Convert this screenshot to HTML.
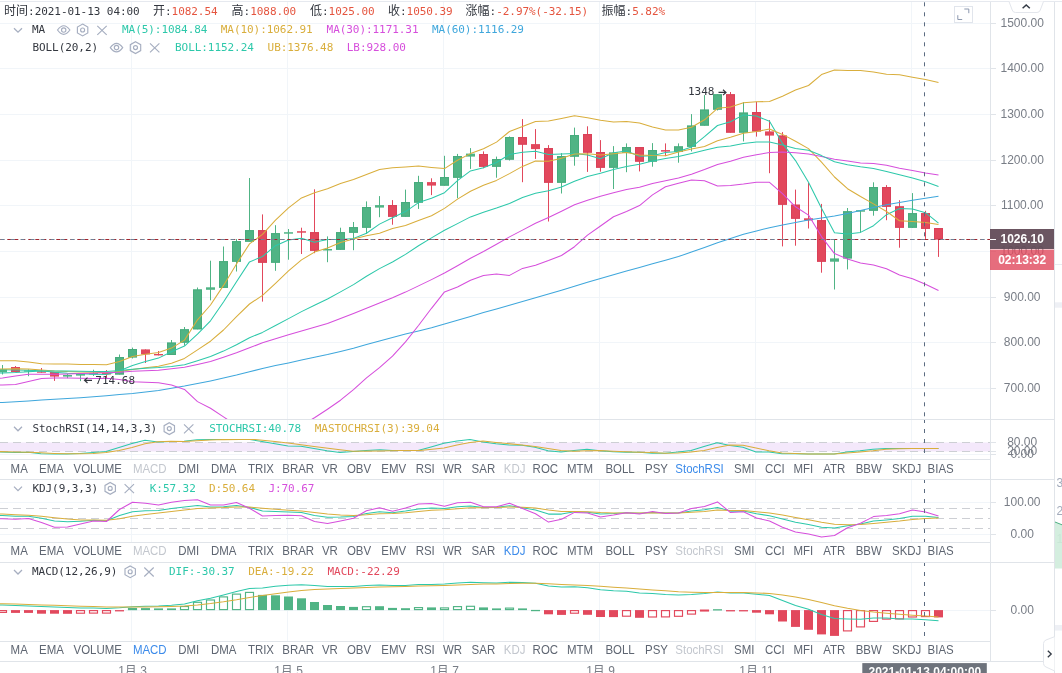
<!DOCTYPE html><html><head><meta charset="utf-8"><title>chart</title><style>html,body{margin:0;padding:0;background:#fff;overflow:hidden}svg{will-change:transform}</style></head><body><svg width="1062" height="673" viewBox="0 0 1062 673" style="display:block">
<rect width="1062" height="673" fill="#fff"/>
<defs>
<clipPath id="cm"><rect x="0" y="2" width="990" height="417"/></clipPath>
<clipPath id="cs"><rect x="0" y="420" width="990" height="39"/></clipPath>
<clipPath id="ck"><rect x="0" y="480" width="990" height="62"/></clipPath>
<clipPath id="cd"><rect x="0" y="563" width="990" height="78"/></clipPath>
<g id="eye" fill="none" stroke="#A6AEC0" stroke-width="1.15"><path d="M-6.2,0 Q0,-8.6 6.2,0 Q0,8.6 -6.2,0 Z"/><circle r="2.2"/></g>
<g id="hex" fill="none" stroke="#A6AEC0" stroke-width="1.15"><path d="M0,-5.9 L5.2,-2.95 L5.2,2.95 L0,5.9 L-5.2,2.95 L-5.2,-2.95 Z"/><circle r="2"/></g>
<g id="xx" fill="none" stroke="#A6AEC0" stroke-width="1.15"><path d="M-4.7,-4.5 L4.7,4.5 M4.7,-4.5 L-4.7,4.5"/></g>
<g id="chev" fill="none" stroke="#A6AEC0" stroke-width="1.25"><path d="M-4,-2 L0,2 L4,-2"/></g>
</defs>
<line x1="0" x2="990.5" y1="388.5" y2="388.5" stroke="#F1F5F9" stroke-width="1" />
<line x1="0" x2="990.5" y1="342.5" y2="342.5" stroke="#F1F5F9" stroke-width="1" />
<line x1="0" x2="990.5" y1="297.5" y2="297.5" stroke="#F1F5F9" stroke-width="1" />
<line x1="0" x2="990.5" y1="251.5" y2="251.5" stroke="#F1F5F9" stroke-width="1" />
<line x1="0" x2="990.5" y1="205.5" y2="205.5" stroke="#F1F5F9" stroke-width="1" />
<line x1="0" x2="990.5" y1="160.5" y2="160.5" stroke="#F1F5F9" stroke-width="1" />
<line x1="0" x2="990.5" y1="114.5" y2="114.5" stroke="#F1F5F9" stroke-width="1" />
<line x1="0" x2="990.5" y1="68.5" y2="68.5" stroke="#F1F5F9" stroke-width="1" />
<line x1="0" x2="990.5" y1="23.5" y2="23.5" stroke="#F1F5F9" stroke-width="1" />
<line x1="131.5" x2="131.5" y1="2" y2="419.5" stroke="#F1F5F9" stroke-width="1" />
<line x1="131.5" x2="131.5" y1="419.5" y2="459.5" stroke="#F1F5F9" stroke-width="1" />
<line x1="131.5" x2="131.5" y1="479.5" y2="542.5" stroke="#F1F5F9" stroke-width="1" />
<line x1="131.5" x2="131.5" y1="562.5" y2="641.5" stroke="#F1F5F9" stroke-width="1" />
<line x1="287.5" x2="287.5" y1="2" y2="419.5" stroke="#F1F5F9" stroke-width="1" />
<line x1="287.5" x2="287.5" y1="419.5" y2="459.5" stroke="#F1F5F9" stroke-width="1" />
<line x1="287.5" x2="287.5" y1="479.5" y2="542.5" stroke="#F1F5F9" stroke-width="1" />
<line x1="287.5" x2="287.5" y1="562.5" y2="641.5" stroke="#F1F5F9" stroke-width="1" />
<line x1="443.5" x2="443.5" y1="2" y2="419.5" stroke="#F1F5F9" stroke-width="1" />
<line x1="443.5" x2="443.5" y1="419.5" y2="459.5" stroke="#F1F5F9" stroke-width="1" />
<line x1="443.5" x2="443.5" y1="479.5" y2="542.5" stroke="#F1F5F9" stroke-width="1" />
<line x1="443.5" x2="443.5" y1="562.5" y2="641.5" stroke="#F1F5F9" stroke-width="1" />
<line x1="599.5" x2="599.5" y1="2" y2="419.5" stroke="#F1F5F9" stroke-width="1" />
<line x1="599.5" x2="599.5" y1="419.5" y2="459.5" stroke="#F1F5F9" stroke-width="1" />
<line x1="599.5" x2="599.5" y1="479.5" y2="542.5" stroke="#F1F5F9" stroke-width="1" />
<line x1="599.5" x2="599.5" y1="562.5" y2="641.5" stroke="#F1F5F9" stroke-width="1" />
<line x1="755.5" x2="755.5" y1="2" y2="419.5" stroke="#F1F5F9" stroke-width="1" />
<line x1="755.5" x2="755.5" y1="419.5" y2="459.5" stroke="#F1F5F9" stroke-width="1" />
<line x1="755.5" x2="755.5" y1="479.5" y2="542.5" stroke="#F1F5F9" stroke-width="1" />
<line x1="755.5" x2="755.5" y1="562.5" y2="641.5" stroke="#F1F5F9" stroke-width="1" />
<line x1="911.5" x2="911.5" y1="2" y2="419.5" stroke="#F1F5F9" stroke-width="1" />
<line x1="911.5" x2="911.5" y1="419.5" y2="459.5" stroke="#F1F5F9" stroke-width="1" />
<line x1="911.5" x2="911.5" y1="479.5" y2="542.5" stroke="#F1F5F9" stroke-width="1" />
<line x1="911.5" x2="911.5" y1="562.5" y2="641.5" stroke="#F1F5F9" stroke-width="1" />
<line x1="0" x2="990.5" y1="454.5" y2="454.5" stroke="#F1F5F9" stroke-width="1" />
<line x1="0" x2="990.5" y1="502.5" y2="502.5" stroke="#F1F5F9" stroke-width="1" />
<line x1="0" x2="990.5" y1="534.5" y2="534.5" stroke="#F1F5F9" stroke-width="1" />
<line x1="0" x2="990.5" y1="610.5" y2="610.5" stroke="#F1F5F9" stroke-width="1" />
<g clip-path="url(#cm)">
<rect x="2.0" y="365.0" width="1" height="9.5" fill="#50B485"/>
<rect x="-2.0" y="369.3" width="9" height="3.0" fill="#50B485"/>
<rect x="15.0" y="366.0" width="1" height="6.0" fill="#E2485C"/>
<rect x="11.0" y="367.0" width="9" height="5.0" fill="#E2485C"/>
<rect x="28.0" y="369.3" width="1" height="6.9" fill="#50B485"/>
<rect x="24.0" y="370.4" width="9" height="1.2" fill="#50B485"/>
<rect x="41.0" y="368.0" width="1" height="4.7" fill="#E2485C"/>
<rect x="37.0" y="371.4" width="9" height="1.3" fill="#E2485C"/>
<rect x="54.0" y="372.0" width="1" height="8.9" fill="#E2485C"/>
<rect x="50.0" y="372.0" width="9" height="4.6" fill="#E2485C"/>
<rect x="67.0" y="374.0" width="1" height="4.2" fill="#50B485"/>
<rect x="63.0" y="375.0" width="9" height="1.6" fill="#50B485"/>
<rect x="80.0" y="374.0" width="1" height="7.1" fill="#50B485"/>
<rect x="76.0" y="374.0" width="9" height="1.6" fill="#50B485"/>
<rect x="93.0" y="369.7" width="1" height="6.2" fill="#50B485"/>
<rect x="89.0" y="373.0" width="9" height="1.5" fill="#50B485"/>
<rect x="106.0" y="370.0" width="1" height="8.0" fill="#E2485C"/>
<rect x="102.0" y="373.0" width="9" height="1.5" fill="#E2485C"/>
<rect x="119.0" y="354.5" width="1" height="20.0" fill="#50B485"/>
<rect x="115.0" y="357.1" width="9" height="17.4" fill="#50B485"/>
<rect x="115.5" y="357.6" width="8" height="16.4" fill="none" stroke="#46AB7C" stroke-width="1"/>
<rect x="132.0" y="347.6" width="1" height="10.9" fill="#50B485"/>
<rect x="128.0" y="349.0" width="9" height="8.4" fill="#50B485"/>
<rect x="128.5" y="349.5" width="8" height="7.4" fill="none" stroke="#46AB7C" stroke-width="1"/>
<rect x="145.0" y="349.4" width="1" height="13.6" fill="#E2485C"/>
<rect x="141.0" y="349.4" width="9" height="5.0" fill="#E2485C"/>
<rect x="158.0" y="351.0" width="1" height="4.4" fill="#E2485C"/>
<rect x="154.0" y="354.0" width="9" height="1.4" fill="#E2485C"/>
<rect x="171.0" y="340.0" width="1" height="15.0" fill="#50B485"/>
<rect x="167.0" y="342.6" width="9" height="12.4" fill="#50B485"/>
<rect x="167.5" y="343.1" width="8" height="11.4" fill="none" stroke="#46AB7C" stroke-width="1"/>
<rect x="184.0" y="327.0" width="1" height="18.6" fill="#50B485"/>
<rect x="180.0" y="329.3" width="9" height="13.3" fill="#50B485"/>
<rect x="180.5" y="329.8" width="8" height="12.3" fill="none" stroke="#46AB7C" stroke-width="1"/>
<rect x="197.0" y="287.5" width="1" height="41.8" fill="#50B485"/>
<rect x="193.0" y="289.5" width="9" height="39.8" fill="#50B485"/>
<rect x="193.5" y="290.0" width="8" height="38.8" fill="none" stroke="#46AB7C" stroke-width="1"/>
<rect x="210.0" y="260.7" width="1" height="39.6" fill="#50B485"/>
<rect x="206.0" y="287.3" width="9" height="2.5" fill="#50B485"/>
<rect x="223.0" y="246.5" width="1" height="41.3" fill="#50B485"/>
<rect x="219.0" y="261.2" width="9" height="26.6" fill="#50B485"/>
<rect x="219.5" y="261.7" width="8" height="25.6" fill="none" stroke="#46AB7C" stroke-width="1"/>
<rect x="236.0" y="239.0" width="1" height="32.5" fill="#50B485"/>
<rect x="232.0" y="241.2" width="9" height="20.5" fill="#50B485"/>
<rect x="232.5" y="241.7" width="8" height="19.5" fill="none" stroke="#46AB7C" stroke-width="1"/>
<rect x="249.0" y="178.0" width="1" height="63.7" fill="#50B485"/>
<rect x="245.0" y="230.2" width="9" height="11.5" fill="#50B485"/>
<rect x="245.5" y="230.7" width="8" height="10.5" fill="none" stroke="#46AB7C" stroke-width="1"/>
<rect x="262.0" y="214.4" width="1" height="87.2" fill="#E2485C"/>
<rect x="258.0" y="230.2" width="9" height="32.5" fill="#E2485C"/>
<rect x="258.5" y="230.7" width="8" height="31.5" fill="none" stroke="#D94058" stroke-width="1"/>
<rect x="275.0" y="225.2" width="1" height="45.6" fill="#50B485"/>
<rect x="271.0" y="233.2" width="9" height="29.5" fill="#50B485"/>
<rect x="271.5" y="233.7" width="8" height="28.5" fill="none" stroke="#46AB7C" stroke-width="1"/>
<rect x="288.0" y="229.0" width="1" height="30.7" fill="#50B485"/>
<rect x="284.0" y="232.2" width="9" height="1.5" fill="#50B485"/>
<rect x="301.0" y="227.7" width="1" height="26.3" fill="#E2485C"/>
<rect x="297.0" y="231.2" width="9" height="1.5" fill="#E2485C"/>
<rect x="314.0" y="189.3" width="1" height="63.9" fill="#E2485C"/>
<rect x="310.0" y="232.2" width="9" height="18.5" fill="#E2485C"/>
<rect x="310.5" y="232.7" width="8" height="17.5" fill="none" stroke="#D94058" stroke-width="1"/>
<rect x="327.0" y="236.4" width="1" height="25.8" fill="#50B485"/>
<rect x="323.0" y="249.0" width="9" height="1.5" fill="#50B485"/>
<rect x="340.0" y="227.7" width="1" height="22.0" fill="#50B485"/>
<rect x="336.0" y="232.2" width="9" height="17.5" fill="#50B485"/>
<rect x="336.5" y="232.7" width="8" height="16.5" fill="none" stroke="#46AB7C" stroke-width="1"/>
<rect x="353.0" y="222.0" width="1" height="28.2" fill="#50B485"/>
<rect x="349.0" y="227.2" width="9" height="5.5" fill="#50B485"/>
<rect x="349.5" y="227.7" width="8" height="4.5" fill="none" stroke="#46AB7C" stroke-width="1"/>
<rect x="366.0" y="201.4" width="1" height="32.6" fill="#50B485"/>
<rect x="362.0" y="207.1" width="9" height="20.6" fill="#50B485"/>
<rect x="362.5" y="207.6" width="8" height="19.6" fill="none" stroke="#46AB7C" stroke-width="1"/>
<rect x="379.0" y="196.1" width="1" height="21.1" fill="#50B485"/>
<rect x="375.0" y="205.1" width="9" height="2.5" fill="#50B485"/>
<rect x="392.0" y="200.1" width="1" height="24.6" fill="#E2485C"/>
<rect x="388.0" y="205.1" width="9" height="11.6" fill="#E2485C"/>
<rect x="388.5" y="205.6" width="8" height="10.6" fill="none" stroke="#D94058" stroke-width="1"/>
<rect x="405.0" y="189.6" width="1" height="27.1" fill="#50B485"/>
<rect x="401.0" y="202.1" width="9" height="14.6" fill="#50B485"/>
<rect x="401.5" y="202.6" width="8" height="13.6" fill="none" stroke="#46AB7C" stroke-width="1"/>
<rect x="418.0" y="175.8" width="1" height="33.1" fill="#50B485"/>
<rect x="414.0" y="182.1" width="9" height="20.5" fill="#50B485"/>
<rect x="414.5" y="182.6" width="8" height="19.5" fill="none" stroke="#46AB7C" stroke-width="1"/>
<rect x="431.0" y="178.3" width="1" height="16.8" fill="#E2485C"/>
<rect x="427.0" y="182.1" width="9" height="3.5" fill="#E2485C"/>
<rect x="444.0" y="155.8" width="1" height="29.8" fill="#50B485"/>
<rect x="440.0" y="177.1" width="9" height="8.5" fill="#50B485"/>
<rect x="440.5" y="177.6" width="8" height="7.5" fill="none" stroke="#46AB7C" stroke-width="1"/>
<rect x="457.0" y="153.9" width="1" height="44.3" fill="#50B485"/>
<rect x="453.0" y="156.1" width="9" height="21.6" fill="#50B485"/>
<rect x="453.5" y="156.6" width="8" height="20.6" fill="none" stroke="#46AB7C" stroke-width="1"/>
<rect x="470.0" y="148.1" width="1" height="20.8" fill="#50B485"/>
<rect x="466.0" y="153.6" width="9" height="3.0" fill="#50B485"/>
<rect x="483.0" y="151.4" width="1" height="16.8" fill="#E2485C"/>
<rect x="479.0" y="154.1" width="9" height="12.6" fill="#E2485C"/>
<rect x="479.5" y="154.6" width="8" height="11.6" fill="none" stroke="#D94058" stroke-width="1"/>
<rect x="496.0" y="156.6" width="1" height="21.1" fill="#50B485"/>
<rect x="492.0" y="159.1" width="9" height="7.6" fill="#50B485"/>
<rect x="492.5" y="159.6" width="8" height="6.6" fill="none" stroke="#46AB7C" stroke-width="1"/>
<rect x="509.0" y="136.4" width="1" height="24.1" fill="#50B485"/>
<rect x="505.0" y="137.1" width="9" height="22.5" fill="#50B485"/>
<rect x="505.5" y="137.6" width="8" height="21.5" fill="none" stroke="#46AB7C" stroke-width="1"/>
<rect x="522.0" y="119.1" width="1" height="63.1" fill="#E2485C"/>
<rect x="518.0" y="137.1" width="9" height="7.5" fill="#E2485C"/>
<rect x="518.5" y="137.6" width="8" height="6.5" fill="none" stroke="#D94058" stroke-width="1"/>
<rect x="535.0" y="129.1" width="1" height="29.8" fill="#E2485C"/>
<rect x="531.0" y="144.1" width="9" height="5.0" fill="#E2485C"/>
<rect x="548.0" y="145.1" width="1" height="76.4" fill="#E2485C"/>
<rect x="544.0" y="148.1" width="9" height="34.6" fill="#E2485C"/>
<rect x="544.5" y="148.6" width="8" height="33.6" fill="none" stroke="#D94058" stroke-width="1"/>
<rect x="561.0" y="153.1" width="1" height="40.4" fill="#50B485"/>
<rect x="557.0" y="156.1" width="9" height="26.6" fill="#50B485"/>
<rect x="557.5" y="156.6" width="8" height="25.6" fill="none" stroke="#46AB7C" stroke-width="1"/>
<rect x="574.0" y="127.6" width="1" height="38.1" fill="#50B485"/>
<rect x="570.0" y="135.1" width="9" height="21.5" fill="#50B485"/>
<rect x="570.5" y="135.6" width="8" height="20.5" fill="none" stroke="#46AB7C" stroke-width="1"/>
<rect x="587.0" y="126.3" width="1" height="45.6" fill="#E2485C"/>
<rect x="583.0" y="134.1" width="9" height="18.5" fill="#E2485C"/>
<rect x="583.5" y="134.6" width="8" height="17.5" fill="none" stroke="#D94058" stroke-width="1"/>
<rect x="600.0" y="140.1" width="1" height="31.6" fill="#E2485C"/>
<rect x="596.0" y="152.1" width="9" height="15.6" fill="#E2485C"/>
<rect x="596.5" y="152.6" width="8" height="14.6" fill="none" stroke="#D94058" stroke-width="1"/>
<rect x="613.0" y="146.1" width="1" height="42.9" fill="#50B485"/>
<rect x="609.0" y="152.6" width="9" height="15.1" fill="#50B485"/>
<rect x="609.5" y="153.1" width="8" height="14.1" fill="none" stroke="#46AB7C" stroke-width="1"/>
<rect x="626.0" y="143.4" width="1" height="28.8" fill="#50B485"/>
<rect x="622.0" y="147.1" width="9" height="5.5" fill="#50B485"/>
<rect x="622.5" y="147.6" width="8" height="4.5" fill="none" stroke="#46AB7C" stroke-width="1"/>
<rect x="639.0" y="147.1" width="1" height="24.3" fill="#E2485C"/>
<rect x="635.0" y="147.1" width="9" height="14.5" fill="#E2485C"/>
<rect x="635.5" y="147.6" width="8" height="13.5" fill="none" stroke="#D94058" stroke-width="1"/>
<rect x="652.0" y="143.1" width="1" height="23.6" fill="#50B485"/>
<rect x="648.0" y="150.1" width="9" height="11.5" fill="#50B485"/>
<rect x="648.5" y="150.6" width="8" height="10.5" fill="none" stroke="#46AB7C" stroke-width="1"/>
<rect x="665.0" y="143.4" width="1" height="12.7" fill="#E2485C"/>
<rect x="661.0" y="150.1" width="9" height="1.5" fill="#E2485C"/>
<rect x="678.0" y="143.4" width="1" height="19.3" fill="#50B485"/>
<rect x="674.0" y="146.4" width="9" height="5.5" fill="#50B485"/>
<rect x="674.5" y="146.9" width="8" height="4.5" fill="none" stroke="#46AB7C" stroke-width="1"/>
<rect x="691.0" y="114.1" width="1" height="37.3" fill="#50B485"/>
<rect x="687.0" y="125.6" width="9" height="21.1" fill="#50B485"/>
<rect x="687.5" y="126.1" width="8" height="20.1" fill="none" stroke="#46AB7C" stroke-width="1"/>
<rect x="704.0" y="95.1" width="1" height="30.5" fill="#50B485"/>
<rect x="700.0" y="109.6" width="9" height="16.0" fill="#50B485"/>
<rect x="700.5" y="110.1" width="8" height="15.0" fill="none" stroke="#46AB7C" stroke-width="1"/>
<rect x="717.0" y="94.3" width="1" height="16.2" fill="#50B485"/>
<rect x="713.0" y="94.3" width="9" height="15.3" fill="#50B485"/>
<rect x="713.5" y="94.8" width="8" height="14.3" fill="none" stroke="#46AB7C" stroke-width="1"/>
<rect x="730.0" y="92.0" width="1" height="40.6" fill="#E2485C"/>
<rect x="726.0" y="94.3" width="9" height="38.3" fill="#E2485C"/>
<rect x="726.5" y="94.8" width="8" height="37.3" fill="none" stroke="#D94058" stroke-width="1"/>
<rect x="743.0" y="102.1" width="1" height="39.3" fill="#50B485"/>
<rect x="739.0" y="112.6" width="9" height="20.0" fill="#50B485"/>
<rect x="739.5" y="113.1" width="8" height="19.0" fill="none" stroke="#46AB7C" stroke-width="1"/>
<rect x="756.0" y="101.8" width="1" height="34.8" fill="#E2485C"/>
<rect x="752.0" y="112.1" width="9" height="19.3" fill="#E2485C"/>
<rect x="752.5" y="112.6" width="8" height="18.3" fill="none" stroke="#D94058" stroke-width="1"/>
<rect x="769.0" y="120.1" width="1" height="53.1" fill="#E2485C"/>
<rect x="765.0" y="131.4" width="9" height="4.2" fill="#E2485C"/>
<rect x="782.0" y="132.1" width="1" height="114.3" fill="#E2485C"/>
<rect x="778.0" y="135.6" width="9" height="69.1" fill="#E2485C"/>
<rect x="778.5" y="136.1" width="8" height="68.1" fill="none" stroke="#D94058" stroke-width="1"/>
<rect x="795.0" y="189.6" width="1" height="56.1" fill="#E2485C"/>
<rect x="791.0" y="204.7" width="9" height="14.0" fill="#E2485C"/>
<rect x="791.5" y="205.2" width="8" height="13.0" fill="none" stroke="#D94058" stroke-width="1"/>
<rect x="808.0" y="183.0" width="1" height="45.5" fill="#E2485C"/>
<rect x="804.0" y="218.3" width="9" height="2.1" fill="#E2485C"/>
<rect x="821.0" y="203.9" width="1" height="68.8" fill="#E2485C"/>
<rect x="817.0" y="220.2" width="9" height="41.5" fill="#E2485C"/>
<rect x="817.5" y="220.7" width="8" height="40.5" fill="none" stroke="#D94058" stroke-width="1"/>
<rect x="834.0" y="239.6" width="1" height="49.9" fill="#50B485"/>
<rect x="830.0" y="258.4" width="9" height="3.3" fill="#50B485"/>
<rect x="847.0" y="208.0" width="1" height="61.4" fill="#50B485"/>
<rect x="843.0" y="211.3" width="9" height="47.1" fill="#50B485"/>
<rect x="843.5" y="211.8" width="8" height="46.1" fill="none" stroke="#46AB7C" stroke-width="1"/>
<rect x="860.0" y="210.2" width="1" height="22.5" fill="#50B485"/>
<rect x="856.0" y="210.2" width="9" height="1.5" fill="#50B485"/>
<rect x="873.0" y="182.3" width="1" height="33.4" fill="#50B485"/>
<rect x="869.0" y="187.1" width="9" height="23.6" fill="#50B485"/>
<rect x="869.5" y="187.6" width="8" height="22.6" fill="none" stroke="#46AB7C" stroke-width="1"/>
<rect x="886.0" y="185.1" width="1" height="35.1" fill="#E2485C"/>
<rect x="882.0" y="187.1" width="9" height="19.6" fill="#E2485C"/>
<rect x="882.5" y="187.6" width="8" height="18.6" fill="none" stroke="#D94058" stroke-width="1"/>
<rect x="899.0" y="200.2" width="1" height="47.5" fill="#E2485C"/>
<rect x="895.0" y="206.4" width="9" height="21.3" fill="#E2485C"/>
<rect x="895.5" y="206.9" width="8" height="20.3" fill="none" stroke="#D94058" stroke-width="1"/>
<rect x="912.0" y="193.1" width="1" height="34.9" fill="#50B485"/>
<rect x="908.0" y="213.2" width="9" height="14.5" fill="#50B485"/>
<rect x="908.5" y="213.7" width="8" height="13.5" fill="none" stroke="#46AB7C" stroke-width="1"/>
<rect x="925.0" y="210.8" width="1" height="28.1" fill="#E2485C"/>
<rect x="921.0" y="213.2" width="9" height="15.6" fill="#E2485C"/>
<rect x="921.5" y="213.7" width="8" height="14.6" fill="none" stroke="#D94058" stroke-width="1"/>
<rect x="938.0" y="228.1" width="1" height="28.8" fill="#E2485C"/>
<rect x="934.0" y="228.1" width="9" height="11.3" fill="#E2485C"/>
<rect x="934.5" y="228.6" width="8" height="10.3" fill="none" stroke="#D94058" stroke-width="1"/>
<polyline points="-10.5,369.7 2.5,369.8 15.5,370.1 28.5,370.2 41.5,370.8 54.5,372.2 67.5,373.3 80.5,373.7 93.5,374.3 106.5,374.6 119.5,370.7 132.5,365.5 145.5,361.6 158.5,358.1 171.5,351.7 184.5,346.1 197.5,334.2 210.5,320.8 223.5,302.0 236.5,281.7 249.5,261.9 262.5,256.5 275.5,245.7 288.5,239.9 301.5,238.2 314.5,242.3 327.5,239.6 340.5,239.4 353.5,238.4 366.5,233.2 379.5,224.1 392.5,217.7 405.5,211.6 418.5,202.6 431.5,198.3 444.5,192.7 457.5,180.6 470.5,170.9 483.5,167.8 496.5,162.5 509.5,154.5 522.5,152.2 535.5,151.3 548.5,154.5 561.5,153.9 574.5,153.5 587.5,155.1 600.5,158.8 613.5,152.8 626.5,151.0 639.5,156.3 652.5,155.8 665.5,152.6 678.5,151.4 691.5,147.1 704.5,136.7 717.5,125.5 730.5,121.7 743.5,114.9 756.5,116.1 769.5,121.3 782.5,143.4 795.5,160.6 808.5,182.2 821.5,208.2 834.5,232.8 847.5,234.1 860.5,232.4 873.5,225.7 886.5,214.7 899.5,208.6 912.5,209.0 925.5,212.7 938.5,223.2" fill="none" stroke="#2DC8AA" stroke-width="1.05" stroke-linejoin="round" />
<polyline points="-10.5,369.0 2.5,368.9 15.5,368.8 28.5,369.0 41.5,370.0 54.5,371.0 67.5,371.6 80.5,371.9 93.5,372.2 106.5,372.7 119.5,371.5 132.5,369.4 145.5,367.7 158.5,366.2 171.5,363.2 184.5,358.4 197.5,349.9 210.5,341.2 223.5,330.0 236.5,316.7 249.5,304.0 262.5,295.4 275.5,283.3 288.5,270.9 301.5,259.9 314.5,252.1 327.5,248.0 340.5,242.5 353.5,239.1 366.5,235.7 379.5,233.2 392.5,228.6 405.5,225.5 418.5,220.5 431.5,215.8 444.5,208.4 457.5,199.1 470.5,191.3 483.5,185.2 496.5,180.4 509.5,173.6 522.5,166.4 535.5,161.1 548.5,161.2 561.5,158.2 574.5,154.0 587.5,153.7 600.5,155.1 613.5,153.7 626.5,152.5 639.5,154.9 652.5,155.5 665.5,155.7 678.5,152.1 691.5,149.0 704.5,146.5 717.5,140.7 730.5,137.2 743.5,133.2 756.5,131.6 769.5,129.0 782.5,134.4 795.5,141.2 808.5,148.6 821.5,162.2 834.5,177.0 847.5,188.7 860.5,196.5 873.5,203.9 886.5,211.5 899.5,220.7 912.5,221.5 925.5,222.6 938.5,224.4" fill="none" stroke="#D9AE3C" stroke-width="1.05" stroke-linejoin="round" />
<polyline points="-10.5,379.0 2.5,378.0 15.5,375.9 28.5,374.3 41.5,374.3 54.5,374.2 67.5,373.9 80.5,373.6 93.5,373.2 106.5,372.8 119.5,372.2 132.5,371.2 145.5,370.8 158.5,370.3 171.5,368.8 184.5,367.3 197.5,364.4 210.5,361.5 223.5,357.2 236.5,352.8 249.5,347.8 262.5,342.8 275.5,338.8 288.5,334.8 301.5,331.0 314.5,327.3 327.5,323.5 340.5,318.5 353.5,313.4 366.5,308.2 379.5,302.9 392.5,297.8 405.5,292.1 418.5,285.9 431.5,279.6 444.5,273.0 457.5,265.7 470.5,258.3 483.5,251.5 496.5,244.3 509.5,236.9 522.5,230.1 535.5,223.3 548.5,217.5 561.5,211.3 574.5,204.8 587.5,200.3 600.5,196.3 613.5,192.7 626.5,189.5 639.5,187.2 652.5,183.5 665.5,180.8 678.5,177.9 691.5,174.3 704.5,169.6 717.5,164.5 730.5,161.2 743.5,157.3 756.5,154.8 769.5,152.5 782.5,152.1 795.5,152.7 808.5,153.9 821.5,156.5 834.5,159.2 847.5,161.0 860.5,162.9 873.5,163.6 886.5,165.2 899.5,168.2 912.5,170.5 925.5,173.1 938.5,175.0" fill="none" stroke="#D64FDC" stroke-width="1.05" stroke-linejoin="round" />
<polyline points="-10.5,402.8 2.5,402.4 15.5,401.7 28.5,400.9 41.5,400.1 54.5,399.3 67.5,398.5 80.5,397.7 93.5,396.8 106.5,395.8 119.5,394.6 132.5,393.4 145.5,391.9 158.5,390.5 171.5,388.3 184.5,386.1 197.5,383.5 210.5,380.9 223.5,378.0 236.5,375.1 249.5,371.8 262.5,368.4 275.5,365.6 288.5,362.9 301.5,360.1 314.5,357.3 327.5,354.6 340.5,351.4 353.5,348.2 366.5,344.6 379.5,341.0 392.5,337.4 405.5,334.1 418.5,330.9 431.5,327.7 444.5,323.9 457.5,320.2 470.5,316.4 483.5,312.6 496.5,308.9 509.5,305.2 522.5,301.6 535.5,297.8 548.5,294.0 561.5,290.2 574.5,286.3 587.5,282.3 600.5,278.4 613.5,274.7 626.5,271.1 639.5,267.5 652.5,263.8 665.5,260.2 678.5,256.6 691.5,252.0 704.5,247.4 717.5,242.8 730.5,238.5 743.5,234.2 756.5,230.9 769.5,227.7 782.5,225.0 795.5,222.4 808.5,219.9 821.5,218.1 834.5,216.1 847.5,213.4 860.5,210.6 873.5,207.5 886.5,204.7 899.5,202.6 912.5,200.3 925.5,198.2 938.5,196.3" fill="none" stroke="#3FA7DC" stroke-width="1.05" stroke-linejoin="round" />
<polyline points="-10.5,373.0 2.5,372.9 15.5,372.6 28.5,371.8 41.5,371.1 54.5,371.0 67.5,371.0 80.5,371.3 93.5,371.5 106.5,371.4 119.5,370.5 132.5,369.2 145.5,368.2 158.5,367.6 171.5,366.6 184.5,364.7 197.5,360.7 210.5,356.6 223.5,351.1 236.5,344.7 249.5,337.7 262.5,332.4 275.5,325.5 288.5,318.6 301.5,311.6 314.5,305.3 327.5,299.0 340.5,291.9 353.5,284.6 366.5,276.2 379.5,268.6 392.5,262.0 405.5,254.4 418.5,245.7 431.5,237.9 444.5,230.3 457.5,223.6 470.5,216.9 483.5,212.2 496.5,208.1 509.5,203.4 522.5,197.5 535.5,193.3 548.5,190.8 561.5,187.0 574.5,181.2 587.5,176.4 600.5,173.2 613.5,169.4 626.5,166.4 639.5,164.3 652.5,160.9 665.5,158.4 678.5,156.6 691.5,153.6 704.5,150.3 717.5,147.2 730.5,146.1 743.5,143.4 756.5,142.0 769.5,141.9 782.5,145.0 795.5,148.4 808.5,150.3 821.5,155.6 834.5,161.8 847.5,164.7 860.5,166.8 873.5,168.6 886.5,171.5 899.5,174.8 912.5,178.0 925.5,181.8 938.5,186.5" fill="none" stroke="#2DC8AA" stroke-width="1.05" stroke-linejoin="round" />
<polyline points="-10.5,360.8 2.5,360.8 15.5,360.7 28.5,361.9 41.5,363.8 54.5,363.9 67.5,364.0 80.5,364.4 93.5,364.6 106.5,364.7 119.5,361.6 132.5,356.5 145.5,354.2 158.5,352.5 171.5,348.1 184.5,340.1 197.5,319.8 210.5,305.0 223.5,285.4 236.5,264.0 249.5,243.9 262.5,234.3 275.5,220.2 288.5,207.9 301.5,197.9 314.5,192.7 327.5,188.7 340.5,183.6 353.5,179.5 366.5,174.5 379.5,169.6 392.5,167.8 405.5,166.9 418.5,166.0 431.5,167.4 444.5,168.6 457.5,160.2 470.5,153.6 483.5,148.7 496.5,142.1 509.5,131.5 522.5,126.6 535.5,121.4 548.5,121.1 561.5,118.5 574.5,115.7 587.5,117.7 600.5,120.3 613.5,122.1 626.5,121.5 639.5,123.0 652.5,127.0 665.5,130.0 678.5,130.0 691.5,127.2 704.5,119.8 717.5,108.3 730.5,106.9 743.5,102.8 756.5,101.7 769.5,101.6 782.5,96.2 795.5,90.0 808.5,85.5 821.5,74.6 834.5,69.9 847.5,70.5 860.5,70.5 873.5,72.1 886.5,74.2 899.5,74.7 912.5,77.2 925.5,79.5 938.5,82.5" fill="none" stroke="#D9AE3C" stroke-width="1.05" stroke-linejoin="round" />
<polyline points="-10.5,385.2 2.5,385.0 15.5,384.6 28.5,381.6 41.5,378.4 54.5,378.1 67.5,377.9 80.5,378.2 93.5,378.4 106.5,378.2 119.5,379.4 132.5,381.8 145.5,382.3 158.5,382.7 171.5,385.1 184.5,389.4 197.5,401.6 210.5,408.2 223.5,416.9 236.5,425.4 249.5,431.6 262.5,430.5 275.5,430.8 288.5,429.2 301.5,425.2 314.5,417.8 327.5,409.2 340.5,400.2 353.5,389.6 366.5,377.9 379.5,367.7 392.5,356.2 405.5,341.9 418.5,325.5 431.5,308.3 444.5,291.9 457.5,287.0 470.5,280.2 483.5,275.6 496.5,274.1 509.5,275.4 522.5,268.4 535.5,265.2 548.5,260.6 561.5,255.5 574.5,246.7 587.5,235.1 600.5,226.0 613.5,216.8 626.5,211.4 639.5,205.6 652.5,194.9 665.5,186.8 678.5,183.3 691.5,180.0 704.5,180.7 717.5,186.0 730.5,185.4 743.5,184.0 756.5,182.3 769.5,182.3 782.5,193.7 795.5,206.8 808.5,215.1 821.5,236.6 834.5,253.6 847.5,258.9 860.5,263.1 873.5,265.0 886.5,268.8 899.5,275.0 912.5,278.8 925.5,284.2 938.5,290.5" fill="none" stroke="#D64FDC" stroke-width="1.05" stroke-linejoin="round" />
</g>
<text x="688" y="94.6" fill="#33373F" font-size="11" font-family='"DejaVu Sans Mono","Noto Sans CJK SC",monospace' text-anchor="start" >1348</text>
<path d="M718.5,92.4 H726 M723,89.7 L726,92.4 L723,95.1" fill="none" stroke="#33373F" stroke-width="1.2"/>
<path d="M92,380.3 H84.5 M87.5,377.6 L84.5,380.3 L87.5,383" fill="none" stroke="#33373F" stroke-width="1.2"/>
<text x="95.3" y="384.2" fill="#33373F" font-size="11" font-family='"DejaVu Sans Mono","Noto Sans CJK SC",monospace' text-anchor="start" >714.68</text>
<rect x="0" y="442.5" width="990" height="9" fill="#F4E8FB"/>
<line x1="0" x2="990.5" y1="442.5" y2="442.5" stroke="#CDCFD4" stroke-width="1" stroke-dasharray="8 5"/>
<line x1="0" x2="990.5" y1="451.5" y2="451.5" stroke="#CDCFD4" stroke-width="1" stroke-dasharray="8 5"/>
<g clip-path="url(#cs)">
<polyline points="0.0,452.0 15.0,452.5 28.0,452.3 41.0,453.7 54.0,453.9 67.0,453.9 80.0,453.6 93.0,452.6 106.0,451.6 119.0,447.5 132.0,443.4 145.0,440.2 158.0,441.9 171.0,441.6 184.0,441.2 197.0,439.7 210.0,439.5 250.0,439.5 262.0,441.5 275.0,443.8 288.0,446.0 301.0,446.2 314.0,448.5 327.0,450.8 340.0,452.5 353.0,451.5 366.0,450.6 380.0,449.7 392.0,450.4 418.0,450.4 431.0,447.0 444.0,443.3 457.0,441.0 470.0,439.5 483.0,441.9 496.0,443.8 509.0,445.0 522.0,445.2 535.0,447.3 548.0,450.8 561.0,452.0 574.0,450.4 587.0,449.2 600.0,450.8 613.0,451.8 626.0,452.2 639.0,452.2 652.0,453.2 665.0,453.2 678.0,452.0 691.0,450.4 704.0,446.6 717.0,442.8 730.0,445.4 743.0,447.3 756.0,452.0 769.0,452.0 782.0,453.7 795.0,453.7 808.0,454.0 834.0,454.0 847.0,452.0 860.0,450.8 873.0,449.2 886.0,448.5 899.0,448.5 938.5,448.5" fill="none" stroke="#2DC8AA" stroke-width="1.05" stroke-linejoin="round" />
<polyline points="0.0,451.6 15.0,452.0 28.0,452.2 41.0,452.8 54.0,453.4 67.0,453.8 80.0,453.8 93.0,453.4 106.0,452.6 119.0,450.6 132.0,447.5 145.0,443.7 158.0,441.8 171.0,441.2 184.0,441.5 197.0,440.8 210.0,440.1 223.0,439.6 240.0,439.5 255.0,439.5 275.0,441.6 290.0,443.3 314.0,446.6 340.0,449.7 353.0,451.3 380.0,451.0 400.0,450.4 420.0,450.4 444.0,448.0 457.0,445.0 470.0,442.4 483.0,441.0 496.0,442.4 522.0,445.0 535.0,446.4 548.0,448.5 561.0,450.4 574.0,451.3 587.0,450.8 600.0,450.6 613.0,451.3 639.0,452.2 652.0,452.5 665.0,453.2 678.0,453.0 691.0,452.0 704.0,450.4 717.0,447.5 730.0,445.0 743.0,445.2 756.0,448.0 769.0,450.8 782.0,453.0 795.0,453.5 808.0,454.0 834.0,454.0 847.0,453.0 860.0,452.0 873.0,450.8 886.0,449.2 899.0,448.7 912.0,448.5 938.5,448.5" fill="none" stroke="#D9AE3C" stroke-width="1.05" stroke-linejoin="round" />
</g>
<line x1="0" x2="990.5" y1="508.5" y2="508.5" stroke="#CDCFD4" stroke-width="1" stroke-dasharray="8 5"/>
<line x1="0" x2="990.5" y1="518.5" y2="518.5" stroke="#CDCFD4" stroke-width="1" stroke-dasharray="8 5"/>
<line x1="0" x2="990.5" y1="528.5" y2="528.5" stroke="#CDCFD4" stroke-width="1" stroke-dasharray="8 5"/>
<g clip-path="url(#ck)">
<polyline points="-10.5,515.2 2.5,515.6 15.5,516.2 28.5,516.3 41.5,518.3 54.5,521.0 67.5,521.8 80.5,521.3 93.5,520.3 106.5,520.7 119.5,515.6 132.5,511.7 145.5,510.7 158.5,510.5 171.5,508.4 184.5,506.9 197.5,505.6 210.5,507.0 223.5,506.7 236.5,505.4 249.5,507.4 262.5,510.9 275.5,511.4 288.5,511.9 301.5,512.6 314.5,515.5 327.5,517.3 340.5,517.0 353.5,516.4 366.5,513.4 379.5,511.8 392.5,512.7 405.5,511.1 418.5,509.0 431.5,508.0 444.5,508.6 457.5,506.8 470.5,506.0 483.5,507.4 496.5,507.3 509.5,505.7 522.5,507.7 535.5,510.0 548.5,514.1 561.5,514.1 574.5,511.8 587.5,512.2 600.5,514.0 613.5,513.6 626.5,512.8 639.5,513.3 652.5,512.4 665.5,513.1 678.5,512.9 691.5,511.1 704.5,509.8 717.5,507.4 730.5,511.1 743.5,511.0 756.5,513.8 769.5,515.7 782.5,519.1 795.5,522.3 808.5,524.6 821.5,527.2 834.5,528.0 847.5,525.7 860.5,524.1 873.5,521.1 886.5,519.9 899.5,518.6 912.5,516.3 925.5,516.3 938.5,517.4" fill="none" stroke="#2DC8AA" stroke-width="1.05" stroke-linejoin="round" />
<polyline points="-10.5,513.6 2.5,514.0 15.5,514.7 28.5,515.2 41.5,516.3 54.5,517.8 67.5,519.1 80.5,519.9 93.5,520.0 106.5,520.2 119.5,518.7 132.5,516.3 145.5,514.5 158.5,513.1 171.5,511.6 184.5,510.0 197.5,508.5 210.5,508.0 223.5,507.6 236.5,506.9 249.5,507.1 262.5,508.3 275.5,509.3 288.5,510.2 301.5,511.0 314.5,512.5 327.5,514.1 340.5,515.0 353.5,515.5 366.5,514.8 379.5,513.8 392.5,513.4 405.5,512.7 418.5,511.5 431.5,510.3 444.5,509.7 457.5,508.7 470.5,507.8 483.5,507.7 496.5,507.5 509.5,506.9 522.5,507.2 535.5,508.1 548.5,510.1 561.5,511.4 574.5,511.6 587.5,511.8 600.5,512.5 613.5,512.9 626.5,512.9 639.5,513.0 652.5,512.8 665.5,512.9 678.5,512.9 691.5,512.3 704.5,511.5 717.5,510.1 730.5,510.4 743.5,510.6 756.5,511.7 769.5,513.0 782.5,515.0 795.5,517.5 808.5,519.8 821.5,522.3 834.5,524.2 847.5,524.7 860.5,524.5 873.5,523.4 886.5,522.2 899.5,521.0 912.5,519.4 925.5,518.4 938.5,518.1" fill="none" stroke="#D9AE3C" stroke-width="1.05" stroke-linejoin="round" />
<polyline points="-10.5,518.5 2.5,518.8 15.5,519.3 28.5,518.4 41.5,522.4 54.5,527.3 67.5,527.0 80.5,524.1 93.5,520.9 106.5,521.5 119.5,509.5 132.5,502.3 145.5,503.3 158.5,505.1 171.5,502.2 184.5,500.6 197.5,499.8 210.5,504.9 223.5,504.9 236.5,502.6 249.5,508.2 262.5,516.0 275.5,515.5 288.5,515.2 301.5,515.8 314.5,521.5 327.5,523.6 340.5,520.9 353.5,518.2 366.5,510.7 379.5,507.8 392.5,511.2 405.5,508.1 418.5,504.1 431.5,503.4 444.5,506.2 457.5,502.8 470.5,502.3 483.5,506.8 496.5,506.7 509.5,503.3 522.5,508.6 535.5,513.7 548.5,522.1 561.5,519.3 574.5,512.4 587.5,513.0 600.5,517.0 613.5,515.1 626.5,512.7 639.5,513.9 652.5,511.5 665.5,513.4 678.5,513.0 691.5,508.6 704.5,506.6 717.5,501.9 730.5,512.5 743.5,511.7 756.5,518.0 769.5,521.1 782.5,527.2 795.5,532.0 808.5,534.0 821.5,537.1 834.5,535.5 847.5,527.7 860.5,523.3 873.5,516.6 886.5,515.4 899.5,513.8 912.5,510.0 925.5,512.1 938.5,516.0" fill="none" stroke="#D64FDC" stroke-width="1.05" stroke-linejoin="round" />
</g>
<g clip-path="url(#cd)">
<rect x="-1.5" y="610.6" width="8" height="1.8" fill="none" stroke="#E2485C" stroke-width="1.15"/>
<rect x="11.0" y="610.1" width="9" height="2.8" fill="#E2485C"/>
<rect x="24.0" y="610.1" width="9" height="2.8" fill="#E2485C"/>
<rect x="37.0" y="610.1" width="9" height="3.6" fill="#E2485C"/>
<rect x="50.0" y="610.1" width="9" height="3.6" fill="#E2485C"/>
<rect x="63.0" y="610.1" width="9" height="3.7" fill="#E2485C"/>
<rect x="76.5" y="610.6" width="8" height="2.6" fill="none" stroke="#E2485C" stroke-width="1.15"/>
<rect x="89.5" y="610.6" width="8" height="2.5" fill="none" stroke="#E2485C" stroke-width="1.15"/>
<rect x="102.5" y="610.6" width="8" height="2.5" fill="none" stroke="#E2485C" stroke-width="1.15"/>
<rect x="115.0" y="610.1" width="9" height="1.3" fill="#E2485C"/>
<rect x="128.5" y="608.6" width="8" height="1.0" fill="none" stroke="#50B485" stroke-width="1.15"/>
<rect x="141.0" y="608.1" width="9" height="2.0" fill="#50B485"/>
<rect x="154.0" y="608.4" width="9" height="1.7" fill="#50B485"/>
<rect x="167.0" y="608.4" width="9" height="1.7" fill="#50B485"/>
<rect x="180.5" y="606.5" width="8" height="3.1" fill="none" stroke="#50B485" stroke-width="1.15"/>
<rect x="193.5" y="602.3" width="8" height="7.3" fill="none" stroke="#50B485" stroke-width="1.15"/>
<rect x="206.5" y="600.0" width="8" height="9.6" fill="none" stroke="#50B485" stroke-width="1.15"/>
<rect x="219.5" y="596.9" width="8" height="12.7" fill="none" stroke="#50B485" stroke-width="1.15"/>
<rect x="232.5" y="594.1" width="8" height="15.5" fill="none" stroke="#50B485" stroke-width="1.15"/>
<rect x="245.5" y="592.4" width="8" height="17.2" fill="none" stroke="#50B485" stroke-width="1.15"/>
<rect x="258.0" y="594.9" width="9" height="15.2" fill="#50B485"/>
<rect x="271.0" y="595.3" width="9" height="14.8" fill="#50B485"/>
<rect x="284.0" y="596.5" width="9" height="13.6" fill="#50B485"/>
<rect x="297.0" y="598.3" width="9" height="11.8" fill="#50B485"/>
<rect x="310.0" y="602.0" width="9" height="8.1" fill="#50B485"/>
<rect x="323.0" y="605.0" width="9" height="5.1" fill="#50B485"/>
<rect x="336.0" y="606.0" width="9" height="4.1" fill="#50B485"/>
<rect x="349.0" y="606.9" width="9" height="3.2" fill="#50B485"/>
<rect x="362.5" y="606.7" width="8" height="2.9" fill="none" stroke="#50B485" stroke-width="1.15"/>
<rect x="375.0" y="606.2" width="9" height="3.9" fill="#50B485"/>
<rect x="388.0" y="607.9" width="9" height="2.2" fill="#50B485"/>
<rect x="401.0" y="608.2" width="9" height="1.9" fill="#50B485"/>
<rect x="414.5" y="607.6" width="8" height="2.0" fill="none" stroke="#50B485" stroke-width="1.15"/>
<rect x="427.0" y="607.4" width="9" height="2.7" fill="#50B485"/>
<rect x="440.5" y="607.9" width="8" height="1.7" fill="none" stroke="#50B485" stroke-width="1.15"/>
<rect x="453.5" y="606.6" width="8" height="3.0" fill="none" stroke="#50B485" stroke-width="1.15"/>
<rect x="466.5" y="606.3" width="8" height="3.3" fill="none" stroke="#50B485" stroke-width="1.15"/>
<rect x="479.0" y="607.4" width="9" height="2.7" fill="#50B485"/>
<rect x="492.0" y="608.4" width="9" height="1.7" fill="#50B485"/>
<rect x="505.5" y="608.1" width="8" height="1.5" fill="none" stroke="#50B485" stroke-width="1.15"/>
<rect x="518.0" y="608.4" width="9" height="1.7" fill="#50B485"/>
<rect x="531.0" y="609.9" width="9" height="1.3" fill="#50B485"/>
<rect x="544.0" y="610.1" width="9" height="4.2" fill="#E2485C"/>
<rect x="557.0" y="610.1" width="9" height="4.8" fill="#E2485C"/>
<rect x="570.5" y="610.6" width="8" height="2.6" fill="none" stroke="#E2485C" stroke-width="1.15"/>
<rect x="583.0" y="610.1" width="9" height="4.7" fill="#E2485C"/>
<rect x="596.0" y="610.1" width="9" height="6.9" fill="#E2485C"/>
<rect x="609.0" y="610.1" width="9" height="7.0" fill="#E2485C"/>
<rect x="622.5" y="610.6" width="8" height="5.6" fill="none" stroke="#E2485C" stroke-width="1.15"/>
<rect x="635.0" y="610.1" width="9" height="7.7" fill="#E2485C"/>
<rect x="648.5" y="610.6" width="8" height="6.4" fill="none" stroke="#E2485C" stroke-width="1.15"/>
<rect x="661.5" y="610.6" width="8" height="6.3" fill="none" stroke="#E2485C" stroke-width="1.15"/>
<rect x="674.5" y="610.6" width="8" height="5.7" fill="none" stroke="#E2485C" stroke-width="1.15"/>
<rect x="687.5" y="610.6" width="8" height="3.5" fill="none" stroke="#E2485C" stroke-width="1.15"/>
<rect x="700.5" y="610.1" width="8" height="0.9" fill="none" stroke="#E2485C" stroke-width="1.15"/>
<rect x="713.0" y="609.2" width="9" height="1.3" fill="#50B485"/>
<rect x="726.0" y="610.1" width="9" height="1.3" fill="#E2485C"/>
<rect x="739.0" y="610.1" width="9" height="1.3" fill="#E2485C"/>
<rect x="752.0" y="610.1" width="9" height="2.6" fill="#E2485C"/>
<rect x="765.0" y="610.1" width="9" height="4.2" fill="#E2485C"/>
<rect x="778.0" y="610.1" width="9" height="11.4" fill="#E2485C"/>
<rect x="791.0" y="610.1" width="9" height="16.8" fill="#E2485C"/>
<rect x="804.0" y="610.1" width="9" height="19.7" fill="#E2485C"/>
<rect x="817.0" y="610.1" width="9" height="24.3" fill="#E2485C"/>
<rect x="830.0" y="610.1" width="9" height="25.8" fill="#E2485C"/>
<rect x="843.5" y="610.6" width="8" height="20.3" fill="none" stroke="#E2485C" stroke-width="1.15"/>
<rect x="856.5" y="610.6" width="8" height="16.3" fill="none" stroke="#E2485C" stroke-width="1.15"/>
<rect x="869.5" y="610.6" width="8" height="10.8" fill="none" stroke="#E2485C" stroke-width="1.15"/>
<rect x="882.5" y="610.6" width="8" height="8.5" fill="none" stroke="#E2485C" stroke-width="1.15"/>
<rect x="895.5" y="610.6" width="8" height="8.3" fill="none" stroke="#E2485C" stroke-width="1.15"/>
<rect x="908.5" y="610.6" width="8" height="6.4" fill="none" stroke="#E2485C" stroke-width="1.15"/>
<rect x="921.5" y="610.6" width="8" height="6.0" fill="none" stroke="#E2485C" stroke-width="1.15"/>
<rect x="934.0" y="610.1" width="9" height="7.3" fill="#E2485C"/>
<polyline points="-10.5,604.8 2.5,605.1 15.5,605.6 28.5,606.0 41.5,606.5 54.5,607.1 67.5,607.6 80.5,607.9 93.5,608.1 106.5,608.4 119.5,607.7 132.5,606.7 145.5,606.3 158.5,606.0 171.5,605.2 184.5,603.9 197.5,600.7 210.5,598.2 223.5,595.0 236.5,591.5 249.5,588.4 262.5,588.0 275.5,586.3 288.5,585.2 301.5,584.7 314.5,585.5 327.5,586.4 340.5,586.4 353.5,586.4 366.5,585.5 379.5,585.1 392.5,585.6 405.5,585.5 418.5,584.6 431.5,584.4 444.5,584.1 457.5,583.0 470.5,582.3 483.5,582.7 496.5,583.0 509.5,582.3 522.5,582.5 535.5,583.2 548.5,585.9 561.5,586.9 574.5,586.7 587.5,587.8 600.5,589.8 613.5,590.7 626.5,591.3 639.5,592.9 652.5,593.6 665.5,594.5 678.5,595.0 691.5,594.5 704.5,593.4 717.5,591.9 730.5,593.0 743.5,593.0 756.5,594.2 769.5,595.5 782.5,600.6 795.5,605.4 808.5,609.3 821.5,614.6 834.5,618.6 847.5,619.0 860.5,619.2 873.5,617.9 886.5,617.9 899.5,619.0 912.5,618.9 925.5,619.7 938.5,620.7" fill="none" stroke="#2DC8AA" stroke-width="1.05" stroke-linejoin="round" />
<polyline points="-10.5,603.5 2.5,603.7 15.5,604.1 28.5,604.5 41.5,604.9 54.5,605.3 67.5,605.8 80.5,606.2 93.5,606.6 106.5,607.0 119.5,607.1 132.5,607.0 145.5,606.9 158.5,606.7 171.5,606.4 184.5,605.9 197.5,604.9 210.5,603.5 223.5,601.8 236.5,599.8 249.5,597.5 262.5,595.6 275.5,593.7 288.5,592.0 301.5,590.6 314.5,589.5 327.5,588.9 340.5,588.4 353.5,588.0 366.5,587.5 379.5,587.0 392.5,586.7 405.5,586.5 418.5,586.1 431.5,585.8 444.5,585.4 457.5,584.9 470.5,584.4 483.5,584.1 496.5,583.9 509.5,583.6 522.5,583.3 535.5,583.3 548.5,583.8 561.5,584.4 574.5,584.9 587.5,585.5 600.5,586.3 613.5,587.2 626.5,588.0 639.5,589.0 652.5,589.9 665.5,590.8 678.5,591.7 691.5,592.2 704.5,592.5 717.5,592.4 730.5,592.5 743.5,592.6 756.5,592.9 769.5,593.4 782.5,594.9 795.5,597.0 808.5,599.4 821.5,602.5 834.5,605.7 847.5,608.3 860.5,610.5 873.5,612.0 886.5,613.2 899.5,614.3 912.5,615.3 925.5,616.1 938.5,617.1" fill="none" stroke="#D9AE3C" stroke-width="1.05" stroke-linejoin="round" />
</g>
<line x1="0.3" x2="990.5" y1="239.5" y2="239.5" stroke="#A3262E" stroke-width="1" stroke-dasharray="4 3"/>
<line x1="0.5" x2="990.5" y1="239.5" y2="239.5" stroke="#6F8297" stroke-width="1" stroke-dasharray="4 6"/>
<line x1="924.5" x2="924.5" y1="2.3" y2="419.5" stroke="#5B6B80" stroke-width="1" stroke-dasharray="4 6"/>
<line x1="924.5" x2="924.5" y1="419.0" y2="459.5" stroke="#5B6B80" stroke-width="1" stroke-dasharray="4 6"/>
<line x1="924.5" x2="924.5" y1="479.0" y2="542.5" stroke="#5B6B80" stroke-width="1" stroke-dasharray="4 6"/>
<line x1="924.5" x2="924.5" y1="562.0" y2="641.5" stroke="#5B6B80" stroke-width="1" stroke-dasharray="4 6"/>
<line x1="0" x2="1062" y1="1.5" y2="1.5" stroke="#E6E9EF" stroke-width="1" />
<line x1="0" x2="1054.5" y1="419.5" y2="419.5" stroke="#E0E4E9" stroke-width="1" />
<line x1="0" x2="1054.5" y1="479.5" y2="479.5" stroke="#E0E4E9" stroke-width="1" />
<line x1="0" x2="1054.5" y1="562.5" y2="562.5" stroke="#E0E4E9" stroke-width="1" />
<line x1="0" x2="990.5" y1="459.5" y2="459.5" stroke="#E0E4E9" stroke-width="1" />
<line x1="0" x2="990.5" y1="542.5" y2="542.5" stroke="#E0E4E9" stroke-width="1" />
<line x1="0" x2="990.5" y1="641.5" y2="641.5" stroke="#E0E4E9" stroke-width="1" />
<line x1="0" x2="1054.5" y1="661.5" y2="661.5" stroke="#E0E4E9" stroke-width="1" />
<line x1="990.5" x2="990.5" y1="2" y2="661.5" stroke="#E0E4E9" stroke-width="1" />
<line x1="1054.5" x2="1054.5" y1="2" y2="673" stroke="#E0E4E9" stroke-width="1" />
<line x1="991.0" x2="996.0" y1="388.5" y2="388.5" stroke="#E0E4E9" stroke-width="1" />
<text x="1022.2" y="392.3" fill="#787D86" font-size="12" font-family='"Liberation Sans","Noto Sans CJK SC",sans-serif' text-anchor="middle" >700.00</text>
<line x1="991.0" x2="996.0" y1="342.5" y2="342.5" stroke="#E0E4E9" stroke-width="1" />
<text x="1022.2" y="346.3" fill="#787D86" font-size="12" font-family='"Liberation Sans","Noto Sans CJK SC",sans-serif' text-anchor="middle" >800.00</text>
<line x1="991.0" x2="996.0" y1="297.5" y2="297.5" stroke="#E0E4E9" stroke-width="1" />
<text x="1022.2" y="301.3" fill="#787D86" font-size="12" font-family='"Liberation Sans","Noto Sans CJK SC",sans-serif' text-anchor="middle" >900.00</text>
<line x1="991.0" x2="996.0" y1="251.5" y2="251.5" stroke="#E0E4E9" stroke-width="1" />
<text x="1022.2" y="255.3" fill="#787D86" font-size="12" font-family='"Liberation Sans","Noto Sans CJK SC",sans-serif' text-anchor="middle" >1000.00</text>
<line x1="991.0" x2="996.0" y1="205.5" y2="205.5" stroke="#E0E4E9" stroke-width="1" />
<text x="1022.2" y="209.3" fill="#787D86" font-size="12" font-family='"Liberation Sans","Noto Sans CJK SC",sans-serif' text-anchor="middle" >1100.00</text>
<line x1="991.0" x2="996.0" y1="160.5" y2="160.5" stroke="#E0E4E9" stroke-width="1" />
<text x="1022.2" y="164.3" fill="#787D86" font-size="12" font-family='"Liberation Sans","Noto Sans CJK SC",sans-serif' text-anchor="middle" >1200.00</text>
<line x1="991.0" x2="996.0" y1="114.5" y2="114.5" stroke="#E0E4E9" stroke-width="1" />
<text x="1022.2" y="118.3" fill="#787D86" font-size="12" font-family='"Liberation Sans","Noto Sans CJK SC",sans-serif' text-anchor="middle" >1300.00</text>
<line x1="991.0" x2="996.0" y1="68.5" y2="68.5" stroke="#E0E4E9" stroke-width="1" />
<text x="1022.2" y="72.3" fill="#787D86" font-size="12" font-family='"Liberation Sans","Noto Sans CJK SC",sans-serif' text-anchor="middle" >1400.00</text>
<line x1="991.0" x2="996.0" y1="23.5" y2="23.5" stroke="#E0E4E9" stroke-width="1" />
<text x="1022.2" y="27.3" fill="#787D86" font-size="12" font-family='"Liberation Sans","Noto Sans CJK SC",sans-serif' text-anchor="middle" >1500.00</text>
<line x1="991.0" x2="996.0" y1="442.5" y2="442.5" stroke="#E0E4E9" stroke-width="1" />
<text x="1022.2" y="446.3" fill="#787D86" font-size="12" font-family='"Liberation Sans","Noto Sans CJK SC",sans-serif' text-anchor="middle" >80.00</text>
<line x1="991.0" x2="996.0" y1="451.5" y2="451.5" stroke="#E0E4E9" stroke-width="1" />
<text x="1022.2" y="455.3" fill="#787D86" font-size="12" font-family='"Liberation Sans","Noto Sans CJK SC",sans-serif' text-anchor="middle" >20.00</text>
<line x1="991.0" x2="996.0" y1="454.5" y2="454.5" stroke="#E0E4E9" stroke-width="1" />
<text x="1022.2" y="458.3" fill="#787D86" font-size="12" font-family='"Liberation Sans","Noto Sans CJK SC",sans-serif' text-anchor="middle" >0.00</text>
<line x1="991.0" x2="996.0" y1="502.5" y2="502.5" stroke="#E0E4E9" stroke-width="1" />
<text x="1022.2" y="506.3" fill="#787D86" font-size="12" font-family='"Liberation Sans","Noto Sans CJK SC",sans-serif' text-anchor="middle" >100.00</text>
<line x1="991.0" x2="996.0" y1="534.5" y2="534.5" stroke="#E0E4E9" stroke-width="1" />
<text x="1022.2" y="538.3" fill="#787D86" font-size="12" font-family='"Liberation Sans","Noto Sans CJK SC",sans-serif' text-anchor="middle" >0.00</text>
<line x1="991.0" x2="996.0" y1="610.5" y2="610.5" stroke="#E0E4E9" stroke-width="1" />
<text x="1022.2" y="614.3" fill="#787D86" font-size="12" font-family='"Liberation Sans","Noto Sans CJK SC",sans-serif' text-anchor="middle" >0.00</text>
<rect x="990" y="229" width="64" height="20" fill="#624A57" fill-opacity="0.94"/>
<line x1="990" x2="996" y1="239.5" y2="239.5" stroke="#fff" stroke-width="1" />
<text x="1022.2" y="242.8" fill="#fff" font-size="12" font-family='"Liberation Sans","Noto Sans CJK SC",sans-serif' text-anchor="middle" font-weight="bold">1026.10</text>
<rect x="990" y="250" width="64" height="20" fill="#E0485C" fill-opacity="0.8"/>
<rect x="990" y="249" width="64" height="1" fill="#E0485C" fill-opacity="0.35"/>
<text x="1022.2" y="263.9" fill="#fff" font-size="12" font-family='"Liberation Sans","Noto Sans CJK SC",sans-serif' text-anchor="middle" font-weight="bold">02:13:32</text>
<text x="4.1" y="14.7" fill="#33373F" font-size="12" font-family='"DejaVu Sans Mono","Noto Sans CJK SC",monospace' text-anchor="start" >时间</text>
<text x="28.1" y="14.7" fill="#33373F" font-size="11" font-family='"DejaVu Sans Mono","Noto Sans CJK SC",monospace' text-anchor="start" letter-spacing="-0.06">:2021-01-13 04:00</text>
<text x="153" y="14.7" fill="#33373F" font-size="12" font-family='"DejaVu Sans Mono","Noto Sans CJK SC",monospace' text-anchor="start" >开</text>
<text x="165" y="14.7" fill="#33373F" font-size="11" font-family='"DejaVu Sans Mono","Noto Sans CJK SC",monospace' text-anchor="start" letter-spacing="-0.06">:</text>
<text x="171.6" y="14.7" fill="#E5553F" font-size="11" font-family='"DejaVu Sans Mono","Noto Sans CJK SC",monospace' text-anchor="start" letter-spacing="-0.06">1082.54</text>
<text x="231.6" y="14.7" fill="#33373F" font-size="12" font-family='"DejaVu Sans Mono","Noto Sans CJK SC",monospace' text-anchor="start" >高</text>
<text x="243.6" y="14.7" fill="#33373F" font-size="11" font-family='"DejaVu Sans Mono","Noto Sans CJK SC",monospace' text-anchor="start" letter-spacing="-0.06">:</text>
<text x="250.2" y="14.7" fill="#E5553F" font-size="11" font-family='"DejaVu Sans Mono","Noto Sans CJK SC",monospace' text-anchor="start" letter-spacing="-0.06">1088.00</text>
<text x="310" y="14.7" fill="#33373F" font-size="12" font-family='"DejaVu Sans Mono","Noto Sans CJK SC",monospace' text-anchor="start" >低</text>
<text x="322" y="14.7" fill="#33373F" font-size="11" font-family='"DejaVu Sans Mono","Noto Sans CJK SC",monospace' text-anchor="start" letter-spacing="-0.06">:</text>
<text x="328.6" y="14.7" fill="#E5553F" font-size="11" font-family='"DejaVu Sans Mono","Noto Sans CJK SC",monospace' text-anchor="start" letter-spacing="-0.06">1025.00</text>
<text x="388" y="14.7" fill="#33373F" font-size="12" font-family='"DejaVu Sans Mono","Noto Sans CJK SC",monospace' text-anchor="start" >收</text>
<text x="400" y="14.7" fill="#33373F" font-size="11" font-family='"DejaVu Sans Mono","Noto Sans CJK SC",monospace' text-anchor="start" letter-spacing="-0.06">:</text>
<text x="406.6" y="14.7" fill="#E5553F" font-size="11" font-family='"DejaVu Sans Mono","Noto Sans CJK SC",monospace' text-anchor="start" letter-spacing="-0.06">1050.39</text>
<text x="465.6" y="14.7" fill="#33373F" font-size="12" font-family='"DejaVu Sans Mono","Noto Sans CJK SC",monospace' text-anchor="start" >涨幅</text>
<text x="489.6" y="14.7" fill="#33373F" font-size="11" font-family='"DejaVu Sans Mono","Noto Sans CJK SC",monospace' text-anchor="start" letter-spacing="-0.06">:</text>
<text x="496.20000000000005" y="14.7" fill="#E5553F" font-size="11" font-family='"DejaVu Sans Mono","Noto Sans CJK SC",monospace' text-anchor="start" letter-spacing="-0.06">-2.97%(-32.15)</text>
<text x="601.6" y="14.7" fill="#33373F" font-size="12" font-family='"DejaVu Sans Mono","Noto Sans CJK SC",monospace' text-anchor="start" >振幅</text>
<text x="625.6" y="14.7" fill="#33373F" font-size="11" font-family='"DejaVu Sans Mono","Noto Sans CJK SC",monospace' text-anchor="start" letter-spacing="-0.06">:</text>
<text x="632.2" y="14.7" fill="#E5553F" font-size="11" font-family='"DejaVu Sans Mono","Noto Sans CJK SC",monospace' text-anchor="start" letter-spacing="-0.06">5.82%</text>
<use href="#chev" x="18" y="30.2"/>
<text x="32" y="33" fill="#33373F" font-size="11" font-family='"DejaVu Sans Mono","Noto Sans CJK SC",monospace' text-anchor="start" letter-spacing="-0.06">MA</text>
<use href="#eye" x="63.7" y="30"/>
<use href="#hex" x="82.6" y="30"/>
<use href="#xx" x="102" y="30.3"/>
<text x="122" y="33" fill="#2DC8AA" font-size="11" font-family='"DejaVu Sans Mono","Noto Sans CJK SC",monospace' text-anchor="start" letter-spacing="-0.06">MA(5):1084.84</text>
<text x="220.8" y="33" fill="#D9AE3C" font-size="11" font-family='"DejaVu Sans Mono","Noto Sans CJK SC",monospace' text-anchor="start" letter-spacing="-0.06">MA(10):1062.91</text>
<text x="326.6" y="33" fill="#D64FDC" font-size="11" font-family='"DejaVu Sans Mono","Noto Sans CJK SC",monospace' text-anchor="start" letter-spacing="-0.06">MA(30):1171.31</text>
<text x="432" y="33" fill="#3FA7DC" font-size="11" font-family='"DejaVu Sans Mono","Noto Sans CJK SC",monospace' text-anchor="start" letter-spacing="-0.06">MA(60):1116.29</text>
<text x="32.4" y="51" fill="#33373F" font-size="11" font-family='"DejaVu Sans Mono","Noto Sans CJK SC",monospace' text-anchor="start" letter-spacing="-0.06">BOLL(20,2)</text>
<use href="#eye" x="116.5" y="47.6"/>
<use href="#hex" x="135.5" y="47.6"/>
<use href="#xx" x="154.7" y="47.9"/>
<text x="175" y="51" fill="#2DC8AA" font-size="11" font-family='"DejaVu Sans Mono","Noto Sans CJK SC",monospace' text-anchor="start" letter-spacing="-0.06">BOLL:1152.24</text>
<text x="267.6" y="51" fill="#D9AE3C" font-size="11" font-family='"DejaVu Sans Mono","Noto Sans CJK SC",monospace' text-anchor="start" letter-spacing="-0.06">UB:1376.48</text>
<text x="346.8" y="51" fill="#D64FDC" font-size="11" font-family='"DejaVu Sans Mono","Noto Sans CJK SC",monospace' text-anchor="start" letter-spacing="-0.06">LB:928.00</text>
<use href="#chev" x="18" y="428.8"/>
<text x="32.4" y="432.2" fill="#33373F" font-size="11" font-family='"DejaVu Sans Mono","Noto Sans CJK SC",monospace' text-anchor="start" letter-spacing="-0.06">StochRSI(14,14,3,3)</text>
<use href="#hex" x="169.3" y="428.6"/>
<use href="#xx" x="188.7" y="428.8"/>
<text x="209.2" y="432.2" fill="#2DC8AA" font-size="11" font-family='"DejaVu Sans Mono","Noto Sans CJK SC",monospace' text-anchor="start" letter-spacing="-0.06">STOCHRSI:40.78</text>
<text x="314.8" y="432.2" fill="#D9AE3C" font-size="11" font-family='"DejaVu Sans Mono","Noto Sans CJK SC",monospace' text-anchor="start" letter-spacing="-0.06">MASTOCHRSI(3):39.04</text>
<use href="#chev" x="18" y="488.6"/>
<text x="32.4" y="491.7" fill="#33373F" font-size="11" font-family='"DejaVu Sans Mono","Noto Sans CJK SC",monospace' text-anchor="start" letter-spacing="-0.06">KDJ(9,3,3)</text>
<use href="#hex" x="110.2" y="488.4"/>
<use href="#xx" x="129.3" y="488.6"/>
<text x="149.8" y="491.7" fill="#2DC8AA" font-size="11" font-family='"DejaVu Sans Mono","Noto Sans CJK SC",monospace' text-anchor="start" letter-spacing="-0.06">K:57.32</text>
<text x="209" y="491.7" fill="#D9AE3C" font-size="11" font-family='"DejaVu Sans Mono","Noto Sans CJK SC",monospace' text-anchor="start" letter-spacing="-0.06">D:50.64</text>
<text x="268.4" y="491.7" fill="#D64FDC" font-size="11" font-family='"DejaVu Sans Mono","Noto Sans CJK SC",monospace' text-anchor="start" letter-spacing="-0.06">J:70.67</text>
<use href="#chev" x="18" y="572"/>
<text x="32" y="575.2" fill="#33373F" font-size="11" font-family='"DejaVu Sans Mono","Noto Sans CJK SC",monospace' text-anchor="start" letter-spacing="-0.06">MACD(12,26,9)</text>
<use href="#hex" x="130.2" y="571.8"/>
<use href="#xx" x="149" y="572"/>
<text x="169" y="575.2" fill="#2DC8AA" font-size="11" font-family='"DejaVu Sans Mono","Noto Sans CJK SC",monospace' text-anchor="start" letter-spacing="-0.06">DIF:-30.37</text>
<text x="248.3" y="575.2" fill="#D9AE3C" font-size="11" font-family='"DejaVu Sans Mono","Noto Sans CJK SC",monospace' text-anchor="start" letter-spacing="-0.06">DEA:-19.22</text>
<text x="327.5" y="575.2" fill="#E2485C" font-size="11" font-family='"DejaVu Sans Mono","Noto Sans CJK SC",monospace' text-anchor="start" letter-spacing="-0.06">MACD:-22.29</text>
<text transform="translate(10.6,472.6) scale(0.925,1)" fill="#5F6672" font-size="12.4" font-family='"Liberation Sans","Noto Sans CJK SC",sans-serif'>MA</text>
<text transform="translate(39.1,472.6) scale(0.925,1)" fill="#5F6672" font-size="12.4" font-family='"Liberation Sans","Noto Sans CJK SC",sans-serif'>EMA</text>
<text transform="translate(73.5,472.6) scale(0.925,1)" fill="#5F6672" font-size="12.4" font-family='"Liberation Sans","Noto Sans CJK SC",sans-serif'>VOLUME</text>
<text transform="translate(132.9,472.6) scale(0.925,1)" fill="#C3C7CE" font-size="12.4" font-family='"Liberation Sans","Noto Sans CJK SC",sans-serif'>MACD</text>
<text transform="translate(178.2,472.6) scale(0.925,1)" fill="#5F6672" font-size="12.4" font-family='"Liberation Sans","Noto Sans CJK SC",sans-serif'>DMI</text>
<text transform="translate(211,472.6) scale(0.925,1)" fill="#5F6672" font-size="12.4" font-family='"Liberation Sans","Noto Sans CJK SC",sans-serif'>DMA</text>
<text transform="translate(247.9,472.6) scale(0.925,1)" fill="#5F6672" font-size="12.4" font-family='"Liberation Sans","Noto Sans CJK SC",sans-serif'>TRIX</text>
<text transform="translate(282.3,472.6) scale(0.925,1)" fill="#5F6672" font-size="12.4" font-family='"Liberation Sans","Noto Sans CJK SC",sans-serif'>BRAR</text>
<text transform="translate(321.9,472.6) scale(0.925,1)" fill="#5F6672" font-size="12.4" font-family='"Liberation Sans","Noto Sans CJK SC",sans-serif'>VR</text>
<text transform="translate(346.9,472.6) scale(0.925,1)" fill="#5F6672" font-size="12.4" font-family='"Liberation Sans","Noto Sans CJK SC",sans-serif'>OBV</text>
<text transform="translate(381.3,472.6) scale(0.925,1)" fill="#5F6672" font-size="12.4" font-family='"Liberation Sans","Noto Sans CJK SC",sans-serif'>EMV</text>
<text transform="translate(415.7,472.6) scale(0.925,1)" fill="#5F6672" font-size="12.4" font-family='"Liberation Sans","Noto Sans CJK SC",sans-serif'>RSI</text>
<text transform="translate(442.9,472.6) scale(0.925,1)" fill="#5F6672" font-size="12.4" font-family='"Liberation Sans","Noto Sans CJK SC",sans-serif'>WR</text>
<text transform="translate(471.6,472.6) scale(0.925,1)" fill="#5F6672" font-size="12.4" font-family='"Liberation Sans","Noto Sans CJK SC",sans-serif'>SAR</text>
<text transform="translate(503.8,472.6) scale(0.925,1)" fill="#C3C7CE" font-size="12.4" font-family='"Liberation Sans","Noto Sans CJK SC",sans-serif'>KDJ</text>
<text transform="translate(532.6,472.6) scale(0.925,1)" fill="#5F6672" font-size="12.4" font-family='"Liberation Sans","Noto Sans CJK SC",sans-serif'>ROC</text>
<text transform="translate(567,472.6) scale(0.925,1)" fill="#5F6672" font-size="12.4" font-family='"Liberation Sans","Noto Sans CJK SC",sans-serif'>MTM</text>
<text transform="translate(605.4,472.6) scale(0.925,1)" fill="#5F6672" font-size="12.4" font-family='"Liberation Sans","Noto Sans CJK SC",sans-serif'>BOLL</text>
<text transform="translate(645,472.6) scale(0.925,1)" fill="#5F6672" font-size="12.4" font-family='"Liberation Sans","Noto Sans CJK SC",sans-serif'>PSY</text>
<text transform="translate(675.3,472.6) scale(0.925,1)" fill="#3C8BEA" font-size="12.4" font-family='"Liberation Sans","Noto Sans CJK SC",sans-serif'>StochRSI</text>
<text transform="translate(734.1,472.6) scale(0.925,1)" fill="#5F6672" font-size="12.4" font-family='"Liberation Sans","Noto Sans CJK SC",sans-serif'>SMI</text>
<text transform="translate(765,472.6) scale(0.925,1)" fill="#5F6672" font-size="12.4" font-family='"Liberation Sans","Noto Sans CJK SC",sans-serif'>CCI</text>
<text transform="translate(793.5,472.6) scale(0.925,1)" fill="#5F6672" font-size="12.4" font-family='"Liberation Sans","Noto Sans CJK SC",sans-serif'>MFI</text>
<text transform="translate(823.2,472.6) scale(0.925,1)" fill="#5F6672" font-size="12.4" font-family='"Liberation Sans","Noto Sans CJK SC",sans-serif'>ATR</text>
<text transform="translate(855.7,472.6) scale(0.925,1)" fill="#5F6672" font-size="12.4" font-family='"Liberation Sans","Noto Sans CJK SC",sans-serif'>BBW</text>
<text transform="translate(892,472.6) scale(0.925,1)" fill="#5F6672" font-size="12.4" font-family='"Liberation Sans","Noto Sans CJK SC",sans-serif'>SKDJ</text>
<text transform="translate(927.6,472.6) scale(0.925,1)" fill="#5F6672" font-size="12.4" font-family='"Liberation Sans","Noto Sans CJK SC",sans-serif'>BIAS</text>
<text transform="translate(10.6,555.4) scale(0.925,1)" fill="#5F6672" font-size="12.4" font-family='"Liberation Sans","Noto Sans CJK SC",sans-serif'>MA</text>
<text transform="translate(39.1,555.4) scale(0.925,1)" fill="#5F6672" font-size="12.4" font-family='"Liberation Sans","Noto Sans CJK SC",sans-serif'>EMA</text>
<text transform="translate(73.5,555.4) scale(0.925,1)" fill="#5F6672" font-size="12.4" font-family='"Liberation Sans","Noto Sans CJK SC",sans-serif'>VOLUME</text>
<text transform="translate(132.9,555.4) scale(0.925,1)" fill="#C3C7CE" font-size="12.4" font-family='"Liberation Sans","Noto Sans CJK SC",sans-serif'>MACD</text>
<text transform="translate(178.2,555.4) scale(0.925,1)" fill="#5F6672" font-size="12.4" font-family='"Liberation Sans","Noto Sans CJK SC",sans-serif'>DMI</text>
<text transform="translate(211,555.4) scale(0.925,1)" fill="#5F6672" font-size="12.4" font-family='"Liberation Sans","Noto Sans CJK SC",sans-serif'>DMA</text>
<text transform="translate(247.9,555.4) scale(0.925,1)" fill="#5F6672" font-size="12.4" font-family='"Liberation Sans","Noto Sans CJK SC",sans-serif'>TRIX</text>
<text transform="translate(282.3,555.4) scale(0.925,1)" fill="#5F6672" font-size="12.4" font-family='"Liberation Sans","Noto Sans CJK SC",sans-serif'>BRAR</text>
<text transform="translate(321.9,555.4) scale(0.925,1)" fill="#5F6672" font-size="12.4" font-family='"Liberation Sans","Noto Sans CJK SC",sans-serif'>VR</text>
<text transform="translate(346.9,555.4) scale(0.925,1)" fill="#5F6672" font-size="12.4" font-family='"Liberation Sans","Noto Sans CJK SC",sans-serif'>OBV</text>
<text transform="translate(381.3,555.4) scale(0.925,1)" fill="#5F6672" font-size="12.4" font-family='"Liberation Sans","Noto Sans CJK SC",sans-serif'>EMV</text>
<text transform="translate(415.7,555.4) scale(0.925,1)" fill="#5F6672" font-size="12.4" font-family='"Liberation Sans","Noto Sans CJK SC",sans-serif'>RSI</text>
<text transform="translate(442.9,555.4) scale(0.925,1)" fill="#5F6672" font-size="12.4" font-family='"Liberation Sans","Noto Sans CJK SC",sans-serif'>WR</text>
<text transform="translate(471.6,555.4) scale(0.925,1)" fill="#5F6672" font-size="12.4" font-family='"Liberation Sans","Noto Sans CJK SC",sans-serif'>SAR</text>
<text transform="translate(503.8,555.4) scale(0.925,1)" fill="#3C8BEA" font-size="12.4" font-family='"Liberation Sans","Noto Sans CJK SC",sans-serif'>KDJ</text>
<text transform="translate(532.6,555.4) scale(0.925,1)" fill="#5F6672" font-size="12.4" font-family='"Liberation Sans","Noto Sans CJK SC",sans-serif'>ROC</text>
<text transform="translate(567,555.4) scale(0.925,1)" fill="#5F6672" font-size="12.4" font-family='"Liberation Sans","Noto Sans CJK SC",sans-serif'>MTM</text>
<text transform="translate(605.4,555.4) scale(0.925,1)" fill="#5F6672" font-size="12.4" font-family='"Liberation Sans","Noto Sans CJK SC",sans-serif'>BOLL</text>
<text transform="translate(645,555.4) scale(0.925,1)" fill="#5F6672" font-size="12.4" font-family='"Liberation Sans","Noto Sans CJK SC",sans-serif'>PSY</text>
<text transform="translate(675.3,555.4) scale(0.925,1)" fill="#C3C7CE" font-size="12.4" font-family='"Liberation Sans","Noto Sans CJK SC",sans-serif'>StochRSI</text>
<text transform="translate(734.1,555.4) scale(0.925,1)" fill="#5F6672" font-size="12.4" font-family='"Liberation Sans","Noto Sans CJK SC",sans-serif'>SMI</text>
<text transform="translate(765,555.4) scale(0.925,1)" fill="#5F6672" font-size="12.4" font-family='"Liberation Sans","Noto Sans CJK SC",sans-serif'>CCI</text>
<text transform="translate(793.5,555.4) scale(0.925,1)" fill="#5F6672" font-size="12.4" font-family='"Liberation Sans","Noto Sans CJK SC",sans-serif'>MFI</text>
<text transform="translate(823.2,555.4) scale(0.925,1)" fill="#5F6672" font-size="12.4" font-family='"Liberation Sans","Noto Sans CJK SC",sans-serif'>ATR</text>
<text transform="translate(855.7,555.4) scale(0.925,1)" fill="#5F6672" font-size="12.4" font-family='"Liberation Sans","Noto Sans CJK SC",sans-serif'>BBW</text>
<text transform="translate(892,555.4) scale(0.925,1)" fill="#5F6672" font-size="12.4" font-family='"Liberation Sans","Noto Sans CJK SC",sans-serif'>SKDJ</text>
<text transform="translate(927.6,555.4) scale(0.925,1)" fill="#5F6672" font-size="12.4" font-family='"Liberation Sans","Noto Sans CJK SC",sans-serif'>BIAS</text>
<text transform="translate(10.6,654.4) scale(0.925,1)" fill="#5F6672" font-size="12.4" font-family='"Liberation Sans","Noto Sans CJK SC",sans-serif'>MA</text>
<text transform="translate(39.1,654.4) scale(0.925,1)" fill="#5F6672" font-size="12.4" font-family='"Liberation Sans","Noto Sans CJK SC",sans-serif'>EMA</text>
<text transform="translate(73.5,654.4) scale(0.925,1)" fill="#5F6672" font-size="12.4" font-family='"Liberation Sans","Noto Sans CJK SC",sans-serif'>VOLUME</text>
<text transform="translate(132.9,654.4) scale(0.925,1)" fill="#3C8BEA" font-size="12.4" font-family='"Liberation Sans","Noto Sans CJK SC",sans-serif'>MACD</text>
<text transform="translate(178.2,654.4) scale(0.925,1)" fill="#5F6672" font-size="12.4" font-family='"Liberation Sans","Noto Sans CJK SC",sans-serif'>DMI</text>
<text transform="translate(211,654.4) scale(0.925,1)" fill="#5F6672" font-size="12.4" font-family='"Liberation Sans","Noto Sans CJK SC",sans-serif'>DMA</text>
<text transform="translate(247.9,654.4) scale(0.925,1)" fill="#5F6672" font-size="12.4" font-family='"Liberation Sans","Noto Sans CJK SC",sans-serif'>TRIX</text>
<text transform="translate(282.3,654.4) scale(0.925,1)" fill="#5F6672" font-size="12.4" font-family='"Liberation Sans","Noto Sans CJK SC",sans-serif'>BRAR</text>
<text transform="translate(321.9,654.4) scale(0.925,1)" fill="#5F6672" font-size="12.4" font-family='"Liberation Sans","Noto Sans CJK SC",sans-serif'>VR</text>
<text transform="translate(346.9,654.4) scale(0.925,1)" fill="#5F6672" font-size="12.4" font-family='"Liberation Sans","Noto Sans CJK SC",sans-serif'>OBV</text>
<text transform="translate(381.3,654.4) scale(0.925,1)" fill="#5F6672" font-size="12.4" font-family='"Liberation Sans","Noto Sans CJK SC",sans-serif'>EMV</text>
<text transform="translate(415.7,654.4) scale(0.925,1)" fill="#5F6672" font-size="12.4" font-family='"Liberation Sans","Noto Sans CJK SC",sans-serif'>RSI</text>
<text transform="translate(442.9,654.4) scale(0.925,1)" fill="#5F6672" font-size="12.4" font-family='"Liberation Sans","Noto Sans CJK SC",sans-serif'>WR</text>
<text transform="translate(471.6,654.4) scale(0.925,1)" fill="#5F6672" font-size="12.4" font-family='"Liberation Sans","Noto Sans CJK SC",sans-serif'>SAR</text>
<text transform="translate(503.8,654.4) scale(0.925,1)" fill="#C3C7CE" font-size="12.4" font-family='"Liberation Sans","Noto Sans CJK SC",sans-serif'>KDJ</text>
<text transform="translate(532.6,654.4) scale(0.925,1)" fill="#5F6672" font-size="12.4" font-family='"Liberation Sans","Noto Sans CJK SC",sans-serif'>ROC</text>
<text transform="translate(567,654.4) scale(0.925,1)" fill="#5F6672" font-size="12.4" font-family='"Liberation Sans","Noto Sans CJK SC",sans-serif'>MTM</text>
<text transform="translate(605.4,654.4) scale(0.925,1)" fill="#5F6672" font-size="12.4" font-family='"Liberation Sans","Noto Sans CJK SC",sans-serif'>BOLL</text>
<text transform="translate(645,654.4) scale(0.925,1)" fill="#5F6672" font-size="12.4" font-family='"Liberation Sans","Noto Sans CJK SC",sans-serif'>PSY</text>
<text transform="translate(675.3,654.4) scale(0.925,1)" fill="#C3C7CE" font-size="12.4" font-family='"Liberation Sans","Noto Sans CJK SC",sans-serif'>StochRSI</text>
<text transform="translate(734.1,654.4) scale(0.925,1)" fill="#5F6672" font-size="12.4" font-family='"Liberation Sans","Noto Sans CJK SC",sans-serif'>SMI</text>
<text transform="translate(765,654.4) scale(0.925,1)" fill="#5F6672" font-size="12.4" font-family='"Liberation Sans","Noto Sans CJK SC",sans-serif'>CCI</text>
<text transform="translate(793.5,654.4) scale(0.925,1)" fill="#5F6672" font-size="12.4" font-family='"Liberation Sans","Noto Sans CJK SC",sans-serif'>MFI</text>
<text transform="translate(823.2,654.4) scale(0.925,1)" fill="#5F6672" font-size="12.4" font-family='"Liberation Sans","Noto Sans CJK SC",sans-serif'>ATR</text>
<text transform="translate(855.7,654.4) scale(0.925,1)" fill="#5F6672" font-size="12.4" font-family='"Liberation Sans","Noto Sans CJK SC",sans-serif'>BBW</text>
<text transform="translate(892,654.4) scale(0.925,1)" fill="#5F6672" font-size="12.4" font-family='"Liberation Sans","Noto Sans CJK SC",sans-serif'>SKDJ</text>
<text transform="translate(927.6,654.4) scale(0.925,1)" fill="#5F6672" font-size="12.4" font-family='"Liberation Sans","Noto Sans CJK SC",sans-serif'>BIAS</text>
<text x="132.5" y="675.4" fill="#787D86" font-size="12" font-family='"Liberation Sans","Noto Sans CJK SC",sans-serif' text-anchor="middle" >1月 3</text>
<text x="288.5" y="675.4" fill="#787D86" font-size="12" font-family='"Liberation Sans","Noto Sans CJK SC",sans-serif' text-anchor="middle" >1月 5</text>
<text x="444.5" y="675.4" fill="#787D86" font-size="12" font-family='"Liberation Sans","Noto Sans CJK SC",sans-serif' text-anchor="middle" >1月 7</text>
<text x="600.5" y="675.4" fill="#787D86" font-size="12" font-family='"Liberation Sans","Noto Sans CJK SC",sans-serif' text-anchor="middle" >1月 9</text>
<text x="756.5" y="675.4" fill="#787D86" font-size="12" font-family='"Liberation Sans","Noto Sans CJK SC",sans-serif' text-anchor="middle" >1月 11</text>
<rect x="862.3" y="663.1" width="124.5" height="12" fill="#6E737C"/>
<text x="924.9" y="675.5" fill="#fff" font-size="12" font-family='"Liberation Sans","Noto Sans CJK SC",sans-serif' text-anchor="middle" font-weight="bold">2021-01-13 04:00:00</text>
<rect x="954.5" y="6.5" width="18" height="16" fill="#fff" stroke="#E1E5EC" stroke-width="1"/>
<path d="M964.3,9 H968.8 V13.2 M957.8,15.2 V19.5 H962.2" fill="none" stroke="#8C98AE" stroke-width="1"/>
<path d="M1009,1.5 L1012.2,10 Q1013,12.5 1015.5,12.5 H1037 Q1039.5,12.5 1040.3,10 L1043.5,1.5" fill="#fff" stroke="#E3E6EC" stroke-width="1"/>
<path d="M1022.6,8.3 L1026.2,5 L1029.8,8.3" fill="none" stroke="#333A45" stroke-width="1.5"/>
<path d="M1054.5,636.7 L1046,640 Q1043.5,641 1043.5,643.5 V663.5 Q1043.5,666 1046,667 L1054.5,670.9" fill="#fff" stroke="#E3E6EC" stroke-width="1"/>
<path d="M1047.8,650.8 L1051.2,654 L1047.8,657.2" fill="none" stroke="#333A45" stroke-width="1.3"/>
<text x="1056.5" y="487" fill="#A3ABBB" font-size="12" font-family='"Liberation Sans","Noto Sans CJK SC",sans-serif' text-anchor="start" >3</text>
<text x="1056.5" y="514.8" fill="#A3ABBB" font-size="12" font-family='"Liberation Sans","Noto Sans CJK SC",sans-serif' text-anchor="start" >2</text>
<text x="1056.5" y="543" fill="#B5C9C0" font-size="12" font-family='"Liberation Sans","Noto Sans CJK SC",sans-serif' text-anchor="start" >1</text>
<path d="M1055,522 L1062,524.8 V568.5 H1055 Z" fill="#CDEBD9" fill-opacity="0.85"/>
<path d="M1055,522 L1062,524.8" fill="none" stroke="#4CAF82" stroke-width="1"/>
<rect x="1055" y="625" width="7" height="5.6" fill="#EEF0F5"/>
<rect x="1055" y="302.3" width="7" height="5.4" fill="#EEF0F5"/>
<line x1="1055" x2="1062" y1="264.5" y2="264.5" stroke="#E8EBF0" stroke-width="1" />
</svg></body></html>
